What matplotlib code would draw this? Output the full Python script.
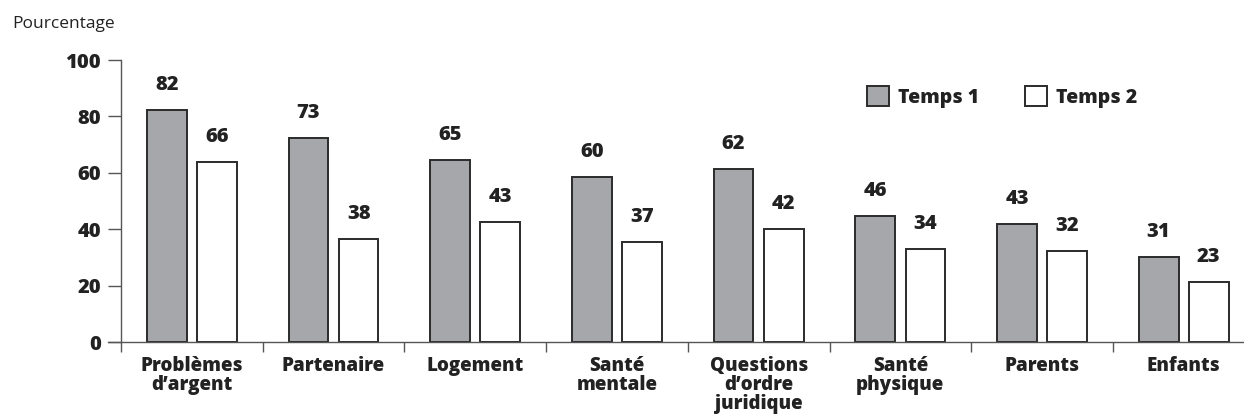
import matplotlib.pyplot as plt
import numpy as np
from matplotlib.patches import Patch

plt.rcParams['font.family'] = ['Open Sans', 'DejaVu Sans']

categories = ["Problèmes\nd\u2019argent", "Partenaire", "Logement", "Santé\nmentale",
              "Questions\nd\u2019ordre\njuridique", "Santé\nphysique", "Parents", "Enfants"]
# bar heights as drawn in the reference
temps1 = [82.2, 72.2, 64.4, 58.4, 61.5, 44.7, 42.0, 30.1]
temps2 = [63.9, 36.5, 42.5, 35.3, 40.1, 32.9, 32.1, 21.3]
# printed values above the bars
labels1 = [82, 73, 65, 60, 62, 46, 43, 31]
labels2 = [66, 38, 43, 37, 42, 34, 32, 23]
yticks = [0, 20, 40, 60, 80, 100]

gray = '#a6a7aa'
edge = '#2b2b2b'
axis_col = '#555555'
txt = '#222222'

fig = plt.figure(figsize=(12.44, 4.17), dpi=100)
W, H = 1244, 417
ax = fig.add_axes([121 / W, 1 - 342 / H, (W - 121) / W, (342 - 60) / H])

x = np.arange(len(categories))
off = 0.177
bw = 0.28
ax.bar(x - off, temps1, bw, color=gray, edgecolor=edge, linewidth=1.4)
ax.bar(x + off, temps2, bw, color='white', edgecolor=edge, linewidth=1.4)

for xi, h, lab in zip(x - off, temps1, labels1):
    ax.annotate(str(lab), (xi, h), xytext=(0, 18), textcoords='offset points',
                ha='center', va='center', fontsize=14.5, fontweight='heavy', color=txt)
for xi, h, lab in zip(x + off, temps2, labels2):
    ax.annotate(str(lab), (xi, h), xytext=(0, 18), textcoords='offset points',
                ha='center', va='center', fontsize=14.5, fontweight='heavy', color=txt)

ax.set_xlim(-0.5, (W - 121) / 141.7 - 0.5)
ax.set_ylim(0, 100)
ax.set_yticks(yticks)
ax.set_yticklabels([str(t) for t in yticks], fontsize=14.5, fontweight='heavy', color=txt)
ax.tick_params(axis='y', length=9.4, width=1, color=axis_col, pad=5)

ax.set_xticks(x)
ax.set_xticklabels(categories, fontsize=13.5, fontweight='heavy', color=txt,
                   linespacing=0.95, va='top')
ax.tick_params(axis='x', which='major', length=0, pad=10)
ax.set_xticks(np.arange(len(categories)) - 0.5, minor=True)
ax.tick_params(axis='x', which='minor', length=7, width=1, color=axis_col)

for s in ['top', 'right']:
    ax.spines[s].set_visible(False)
ax.spines['left'].set_color(axis_col)
ax.spines['bottom'].set_color(axis_col)
ax.spines['left'].set_linewidth(1)
ax.spines['bottom'].set_linewidth(1)
ax.spines['bottom'].set_bounds(-0.5 - 13 / 141.7, ax.get_xlim()[1])
ax.spines['bottom'].set_clip_on(False)

fig.text(12 / W, 1 - 24 / H, 'Pourcentage', fontsize=12.5, va='center', ha='left', color=txt)

handles = [Patch(facecolor=gray, edgecolor=edge, linewidth=1.4, label='Temps 1'),
           Patch(facecolor='white', edgecolor=edge, linewidth=1.4, label='Temps 2')]
leg = fig.legend(handles=handles, loc='center left', bbox_to_anchor=(867 / W, 1 - 97 / H),
                 ncol=2, frameon=False, prop={'size': 14, 'weight': 'heavy'},
                 handlelength=1.15, handleheight=1.15, handletextpad=0.45,
                 columnspacing=2.35, borderpad=0, borderaxespad=0)
for t in leg.get_texts():
    t.set_color(txt)

fig.savefig('out.png', dpi=100)
